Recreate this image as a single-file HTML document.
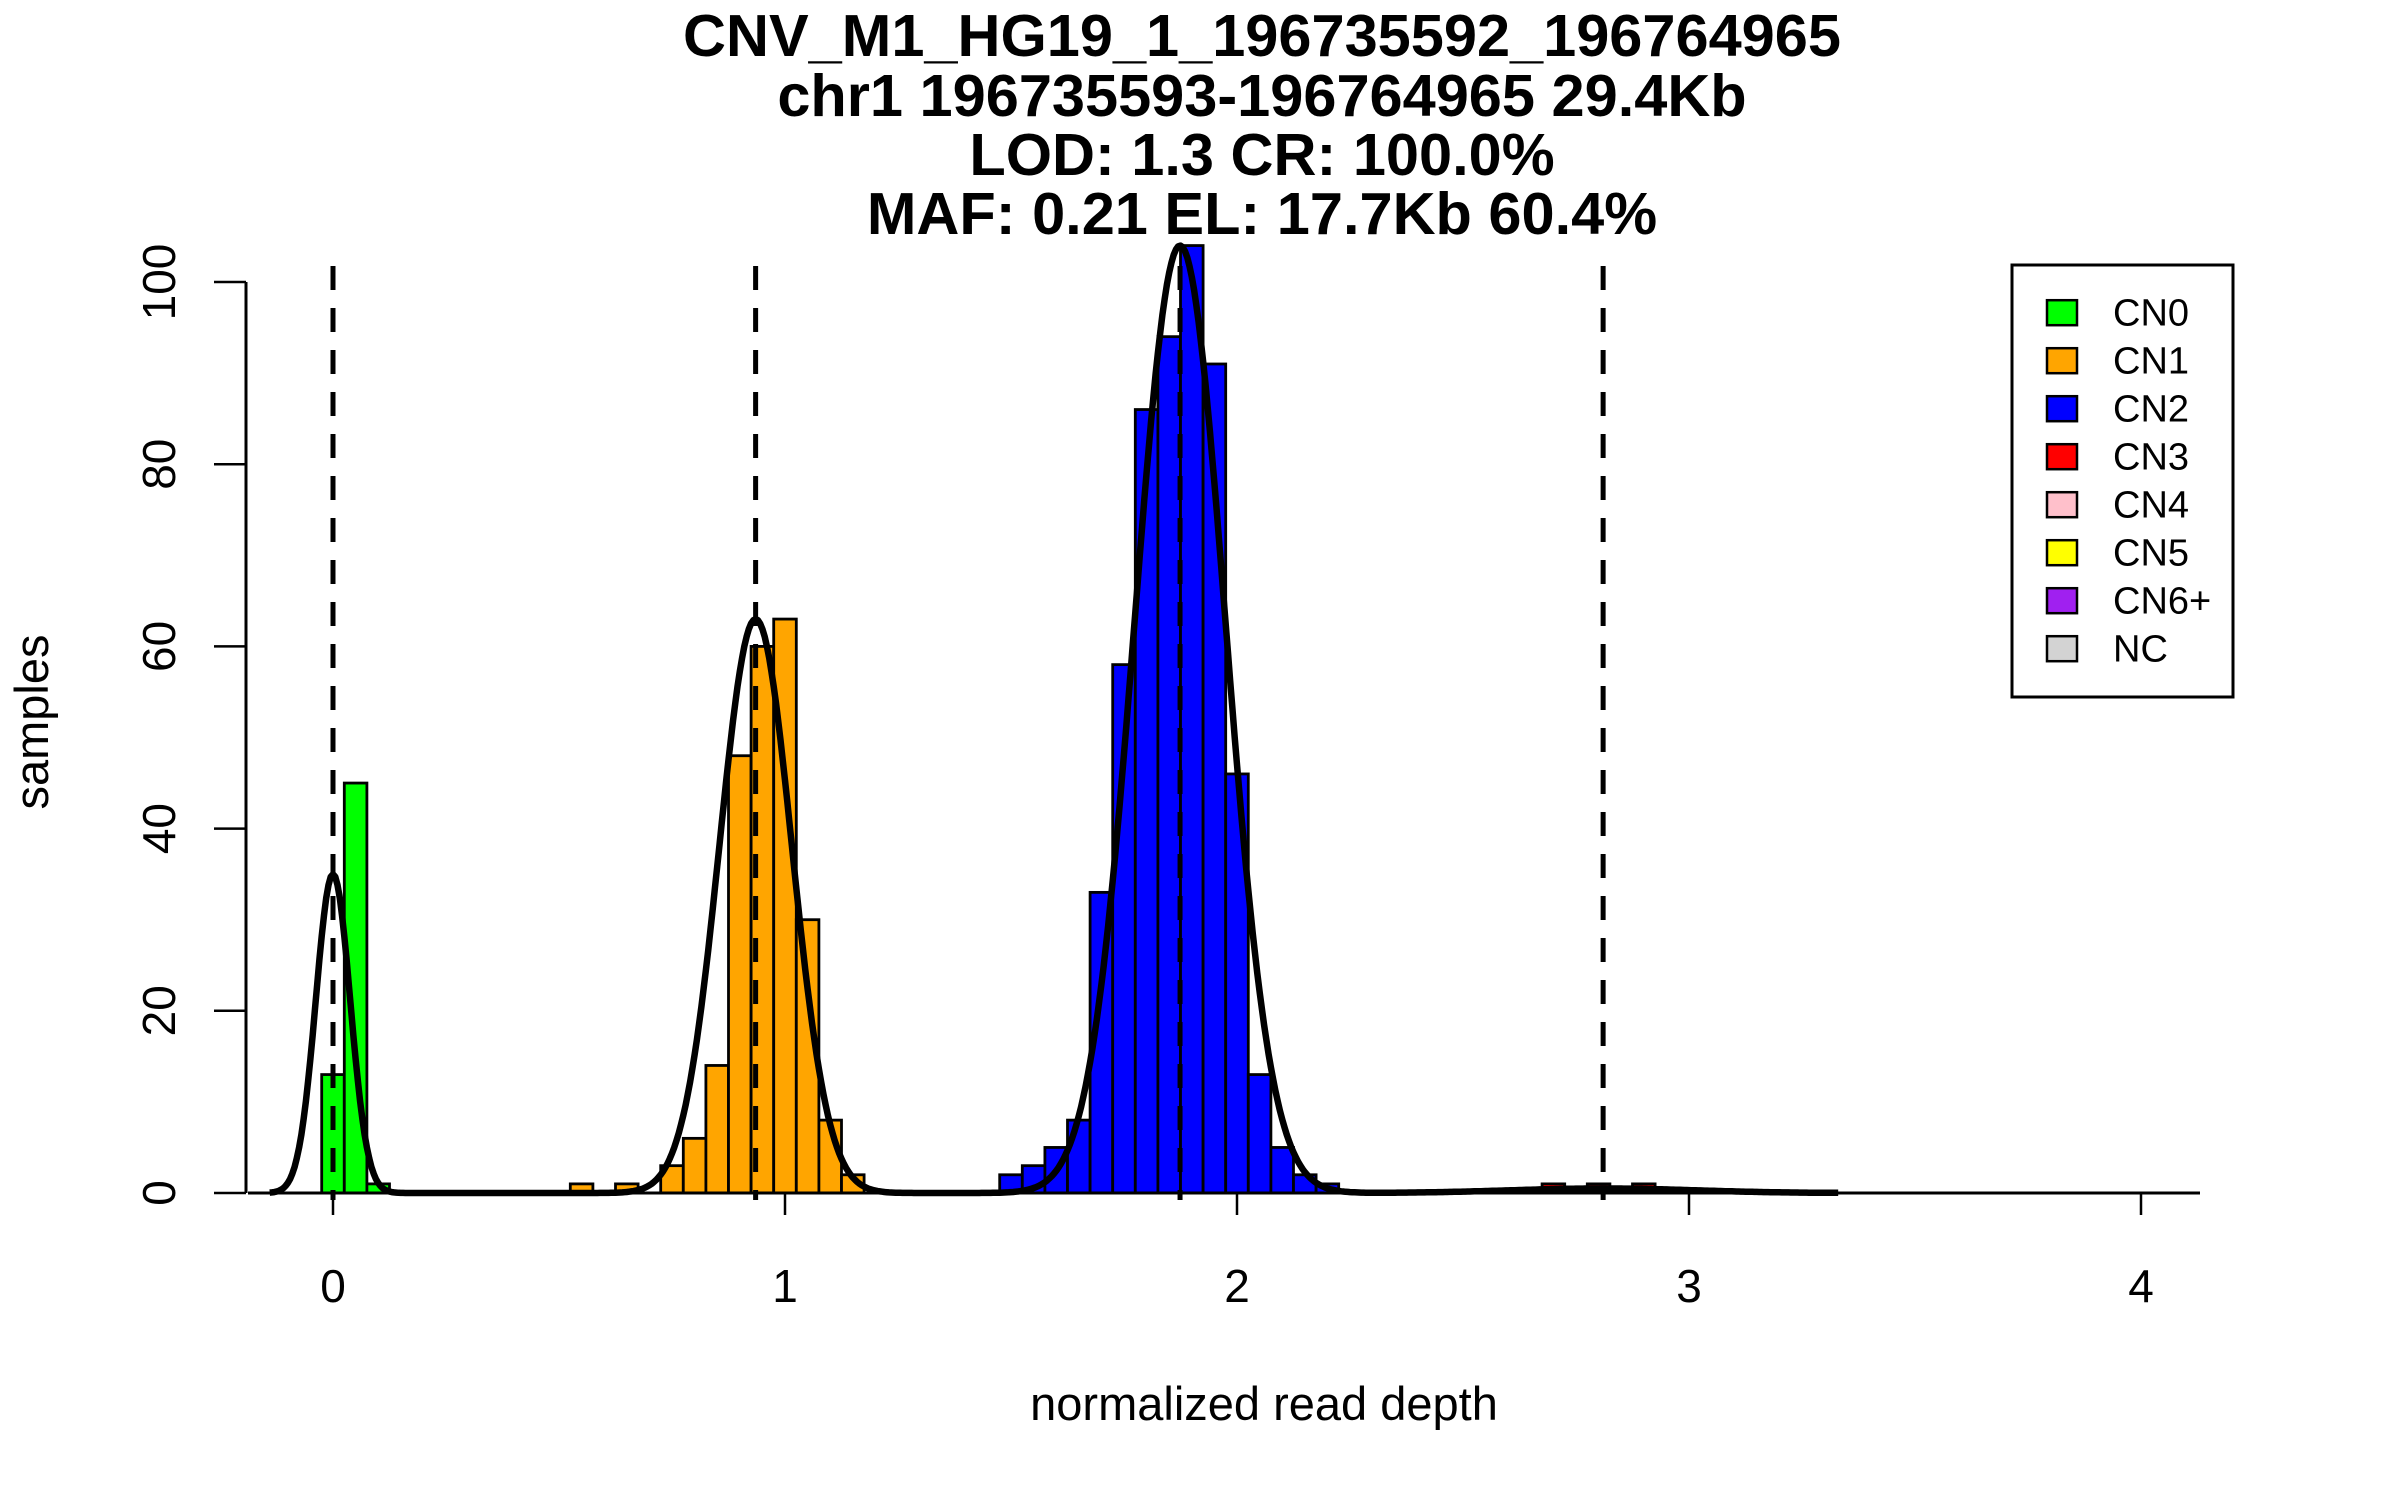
<!DOCTYPE html>
<html><head><meta charset="utf-8">
<style>
html,body{margin:0;padding:0;background:#fff;}
svg{display:block;}
text{font-family:"Liberation Sans",Arial,sans-serif;fill:#000;}
</style></head>
<body>
<svg id="chart" width="2400" height="1500" viewBox="0 0 2400 1500" xmlns="http://www.w3.org/2000/svg">
  <g font-weight="bold" font-size="59.5" text-anchor="middle">
    <text x="1262" y="56">CNV_M1_HG19_1_196735592_196764965</text>
    <text x="1262" y="116">chr1 196735593-196764965 29.4Kb</text>
    <text x="1262" y="175">LOD: 1.3 CR: 100.0%</text>
    <text x="1262" y="234">MAF: 0.21 EL: 17.7Kb 60.4%</text>
  </g>
  <g id="bars"></g>
  <g id="vlines"></g>
  <path id="curve" fill="none" stroke="#000" stroke-width="6.5" stroke-linejoin="round"/>
  <g id="axes"></g>
  <text x="1264" y="1420" font-size="47" text-anchor="middle">normalized read depth</text>
  <text transform="translate(48,722) rotate(-90)" font-size="47" text-anchor="middle">samples</text>
  <g id="legend">
    <rect x="2012" y="265" width="221" height="432" fill="#fff" stroke="#000" stroke-width="3"/>
  </g>
</svg>
<script>
// ---- data ----
const binLefts = [-0.025,0.025,0.075, 0.525,0.625,0.725,0.775,0.825,0.875,0.925,0.975,1.025,1.075,1.125,
  1.475,1.525,1.575,1.625,1.675,1.725,1.775,1.825,1.875,1.925,1.975,2.025,2.075,2.125,2.175, 2.675,2.775,2.875];
const binCounts = [13,45,1, 1,1,3,6,14,48,60,63,30,8,2,
  2,3,5,8,33,58,86,94,104,91,46,13,5,2,1, 1,1,1];
const binClass = [0,0,0, 1,1,1,1,1,1,1,1,1,1,1,
  2,2,2,2,2,2,2,2,2,2,2,2,2,2,2, 3,3,3];
const binWidth = 0.05;
const compMeans = [0, 0.935, 1.874, 2.81];
const compPeaks = [35, 63, 104, 0.5];
const compSds = [0.038, 0.08, 0.1, 0.2];
const curveRange = [-0.14, 3.33];
const xTicks = [0,1,2,3,4];
const yTicks = [0,20,40,60,80,100];
const legendLabels = ["CN0","CN1","CN2","CN3","CN4","CN5","CN6+","NC"];
const legendColors = ["#00ff00","#ffa500","#0000ff","#ff0000","#ffc0cb","#ffff00","#a020f0","#d3d3d3"];

// ---- scales ----
const X0 = 333, XU = 452, Y0 = 1193, YU = 9.11;
const sx = v => X0 + v * XU;
const sy = v => Y0 - v * YU;
const NS = "http://www.w3.org/2000/svg";
function mk(tag, attrs, parent){ const e=document.createElementNS(NS,tag); for(const k in attrs) e.setAttribute(k,attrs[k]); parent.appendChild(e); return e; }

// bars
const gb = document.getElementById('bars');
binLefts.forEach((l,i)=>{
  const r = mk('rect',{x:sx(l),y:sy(binCounts[i]),width:binWidth*XU,height:binCounts[i]*YU,fill:legendColors[binClass[i]],stroke:'#000','stroke-width':2.8},gb);
  
  
});

// dashed mean lines
const gv = document.getElementById('vlines');
compMeans.forEach((m,i)=>{
  const ln = mk('line',{x1:sx(m),x2:sx(m),y1:266,y2:1200,stroke:'#000','stroke-width':5,'stroke-dasharray':'24 18'},gv);
  
  
});

// curve
let d = '';
for (let x = curveRange[0]; x <= curveRange[1] + 1e-9; x += 0.005) {
  let y = 0;
  for (let k = 0; k < compMeans.length; k++) y += compPeaks[k] * Math.exp(-0.5 * Math.pow((x - compMeans[k]) / compSds[k], 2));
  d += (d ? 'L' : 'M') + sx(x).toFixed(1) + ',' + sy(y).toFixed(1);
}
document.getElementById('curve').setAttribute('d', d);

// axes
const ga = document.getElementById('axes');
const xl = mk('line',{x1:248,x2:2200,y1:Y0,y2:Y0,stroke:'#000','stroke-width':3},ga);


xTicks.forEach(t=>{
  const tk = mk('line',{x1:sx(t),x2:sx(t),y1:Y0,y2:Y0+22,stroke:'#000','stroke-width':2.5},ga);
  
  
  const tx = mk('text',{x:sx(t),y:1302,'font-size':46,'text-anchor':'middle'},ga);
  tx.textContent = t;
  
  
});
const yl = mk('line',{x1:246,x2:246,y1:sy(100),y2:sy(0),stroke:'#000','stroke-width':3},ga);


yTicks.forEach(t=>{
  const tk = mk('line',{x1:214,x2:246,y1:sy(t),y2:sy(t),stroke:'#000','stroke-width':2.5},ga);
  
  
  const tx = mk('text',{transform:'translate(175,'+sy(t)+') rotate(-90)','font-size':46,'text-anchor':'middle'},ga);
  tx.textContent = t;
  
  
});

// legend
const gl = document.getElementById('legend');
legendLabels.forEach((lab,i)=>{
  const cy = 312.7 + i*48;
  const g = mk('g',{},gl);
  
  
  mk('rect',{x:2047,y:cy-12.5,width:30,height:25,fill:legendColors[i],stroke:'#000','stroke-width':2.5},g);
  const t = mk('text',{x:2113,y:cy+13,'font-size':38},g);
  t.textContent = lab;
});
</script>
</body></html>
